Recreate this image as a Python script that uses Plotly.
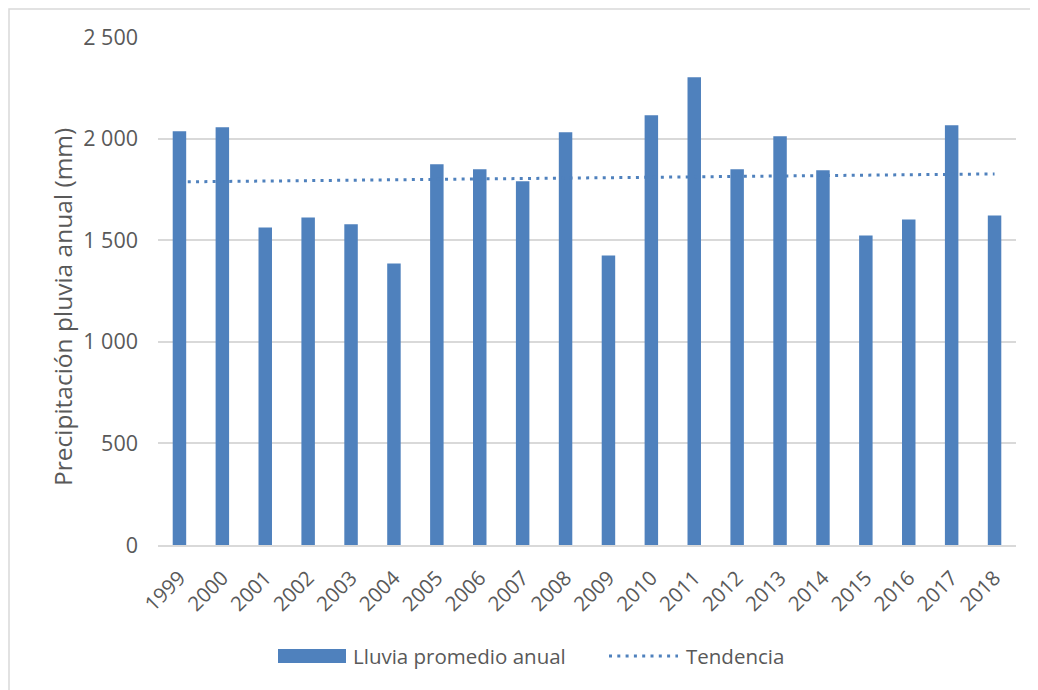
import numpy as np
import plotly.graph_objects as go

years = ["1999", "2000", "2001", "2002", "2003", "2004", "2005", "2006", "2007", "2008",
         "2009", "2010", "2011", "2012", "2013", "2014", "2015", "2016", "2017", "2018"]
rain = [2036, 2056, 1563, 1612, 1578, 1385, 1874, 1849, 1790, 2031,
        1425, 2115, 2302, 1849, 2011, 1844, 1523, 1602, 2066, 1622]
y_ticks = [0, 500, 1000, 1500, 2000, 2500]
series_names = ["Lluvia promedio anual", "Tendencia"]
y_title = "Precipitación pluvia anual (mm)"

# linear trend (least squares) of the series
idx = np.arange(len(rain))
slope, intercept = np.polyfit(idx, rain, 1)
trend = slope * idx + intercept

font_family = "'Open Sans', sans-serif"
text_color = "#595959"
bar_color = "#4F81BD"

L, R, T, B = 150, 30, 29, 153
W, H = 1038, 690
pw, ph = W - L - R, H - T - B


def px(fx):
    return (fx - L) / pw


def py(fy):
    return (T + ph - fy) / ph


fig = go.Figure()
fig.add_trace(go.Bar(
    x=years, y=rain, name=series_names[0],
    marker=dict(color=bar_color, line=dict(width=0)),
))
fig.add_trace(go.Scatter(
    x=years, y=trend, name=series_names[1], mode="lines",
    line=dict(color=bar_color, width=3, dash="3px,5.3px"),
))

shapes = [
    # chart frame (top / left edges visible)
    dict(type="rect", xref="paper", yref="paper",
         x0=px(1), x1=1.5, y0=-1, y1=py(1),
         line=dict(color="#D9D9D9", width=1.5), fillcolor="rgba(0,0,0,0)", layer="below"),
    # legend swatches
    dict(type="rect", xref="paper", yref="paper",
         x0=px(270), x1=px(338), y0=py(655), y1=py(641),
         line=dict(width=0), fillcolor=bar_color),
    dict(type="line", xref="paper", yref="paper",
         x0=px(601), x1=px(670), y0=py(648), y1=py(648),
         line=dict(color=bar_color, width=3, dash="3px,5.3px")),
]

annotations = [
    dict(text=y_title, xref="paper", yref="paper", x=px(54), y=py(299),
         textangle=-90, showarrow=False, xanchor="center", yanchor="middle",
         font=dict(size=24.5, color=text_color)),
    dict(text=series_names[0], xref="paper", yref="paper", x=px(343), y=py(648),
         showarrow=False, xanchor="left", yanchor="middle",
         font=dict(size=20.5, color=text_color)),
    dict(text=series_names[1], xref="paper", yref="paper", x=px(676), y=py(648),
         showarrow=False, xanchor="left", yanchor="middle",
         font=dict(size=20.5, color=text_color)),
]

fig.update_layout(
    width=W, height=H,
    margin=dict(l=L, r=R, t=T, b=B),
    paper_bgcolor="white", plot_bgcolor="white",
    separators=". ",
    bargap=0.686,
    font=dict(family=font_family, size=20, color=text_color),
    showlegend=False,
    xaxis=dict(
        type="category", tickangle=-45, showgrid=False, ticks="",
        showline=True, linecolor="#D9D9D9", linewidth=1.5, ticklabelstandoff=11,
        tickfont=dict(size=20.5, color=text_color),
    ),
    yaxis=dict(
        range=[0, 2500], tickvals=y_ticks, tickformat=",d",
        showgrid=True, gridcolor="#D9D9D9", gridwidth=1.5,
        zeroline=False, showline=False, ticks="", ticklabelstandoff=19,
        tickfont=dict(size=21.5, color=text_color),
    ),
    shapes=shapes,
    annotations=annotations,
)

fig.write_html("out.html")
